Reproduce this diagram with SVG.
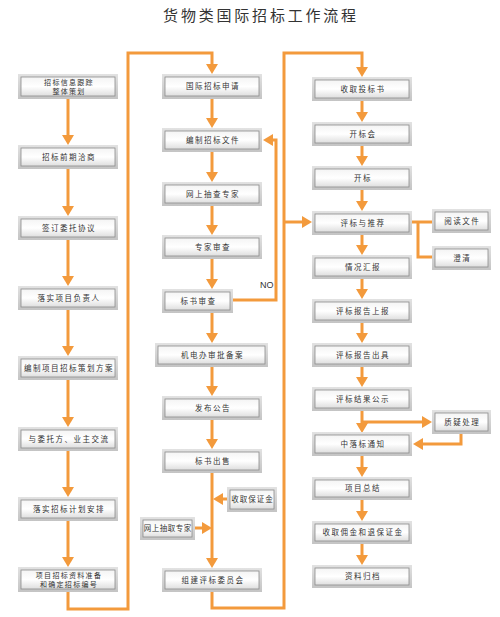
<svg xmlns="http://www.w3.org/2000/svg" width="500" height="617" viewBox="0 0 500 617">
<defs>
<linearGradient id="gi" x1="0" y1="0" x2="0" y2="1">
<stop offset="0" stop-color="#f4f4f4"/>
<stop offset="0.5" stop-color="#ffffff"/>
<stop offset="1" stop-color="#dedede"/>
</linearGradient>
<linearGradient id="go" x1="0" y1="0" x2="0" y2="1">
<stop offset="0" stop-color="#e2e2e2"/>
<stop offset="1" stop-color="#c4c4c4"/>
</linearGradient>
<marker id="ah" viewBox="0 0 10 12" refX="1" refY="6" markerWidth="10" markerHeight="12" markerUnits="userSpaceOnUse" orient="auto">
<path d="M0,0 L10,6 L0,12 z" fill="#f39a3c"/>
</marker>
</defs>
<style>
.o{fill:url(#go);}
.i{fill:url(#gi);stroke:#8c8c8c;stroke-width:0.8;}
.t{font-family:"Noto Sans CJK SC","Noto Sans",sans-serif;font-size:7.5px;fill:#333;letter-spacing:1.5px;text-anchor:middle;}
.t2{font-size:7px;letter-spacing:1.3px;}
.c{fill:none;stroke:#f39a3c;stroke-width:3;}
.a{marker-end:url(#ah);}
.ttl{font-family:"Noto Sans CJK SC","Noto Sans",sans-serif;font-size:15px;fill:#333;letter-spacing:2.8px;text-anchor:middle;}
.no{font-family:"Liberation Sans",Arial,sans-serif;font-size:9px;fill:#333;}
</style>
<rect width="500" height="617" fill="#ffffff"/>
<text class="ttl" x="261" y="21">货物类国际招标工作流程</text>

<g id="connectors">
<path class="c a" d="M68,99 V136"/>
<path class="c a" d="M68,169 V207"/>
<path class="c a" d="M68,240 V277"/>
<path class="c a" d="M68,310 V347"/>
<path class="c a" d="M68,380 V418"/>
<path class="c a" d="M68,451 V488"/>
<path class="c a" d="M68,521 V558"/>
<path class="c a" d="M68,592 V609 H128 V53 H212 V65"/>
<path class="c a" d="M212,99 V119"/>
<path class="c a" d="M212,152 V173"/>
<path class="c a" d="M212,206 V226"/>
<path class="c a" d="M212,259 V280"/>
<path class="c a" d="M212,313 V334"/>
<path class="c a" d="M212,367 V387"/>
<path class="c a" d="M212,420 V440"/>
<path class="c a" d="M212,473 V559"/>
<path class="c a" d="M227,499 H222"/>
<path class="c a" d="M195,528 H203"/>
<path class="c a" d="M233,300 H276 V140 H272"/>
<path class="c a" d="M212,592 V608 H284 V53 H362 V68"/>
<path class="c a" d="M284,222 H303"/>
<path class="c a" d="M362,101 V113"/>
<path class="c a" d="M362,146 V157"/>
<path class="c a" d="M362,190 V202"/>
<path class="c a" d="M362,235 V246"/>
<path class="c a" d="M362,279 V290"/>
<path class="c a" d="M362,323 V334"/>
<path class="c a" d="M362,367 V378"/>
<path class="c a" d="M362,411 V424"/>
<path class="c a" d="M362,456 V468"/>
<path class="c a" d="M362,500 V512"/>
<path class="c a" d="M362,544 V556"/>
<path class="c" d="M412,222 H432"/>
<path class="c" d="M418,222 V257 H432"/>
<path class="c a" d="M362,422 H423"/>
<path class="c a" d="M461,434 V444 H422"/>
<text class="no" x="260" y="288">NO</text>
</g>

<g id="n1"><rect class="o" x="18" y="74" width="100" height="25"/><rect class="i" x="21" y="77" width="94" height="19"/><text class="t t2" x="69" y="84.5">招标信息跟踪</text><text class="t t2" x="69" y="93.5">整体策划</text></g>
<g id="n2"><rect class="o" x="18" y="145" width="100" height="24"/><rect class="i" x="21" y="148" width="94" height="18"/><text class="t" x="69" y="159.8">招标前期洽商</text></g>
<g id="n3"><rect class="o" x="18" y="216" width="100" height="24"/><rect class="i" x="21" y="219" width="94" height="18"/><text class="t" x="69" y="230.8">签订委托协议</text></g>
<g id="n4"><rect class="o" x="18" y="286" width="100" height="24"/><rect class="i" x="21" y="289" width="94" height="18"/><text class="t" x="69" y="300.8">落实项目负责人</text></g>
<g id="n5"><rect class="o" x="18" y="356" width="100" height="24"/><rect class="i" x="21" y="359" width="94" height="18"/><text class="t" x="69" y="370.8">编制项目招标策划方案</text></g>
<g id="n6"><rect class="o" x="18" y="427" width="100" height="24"/><rect class="i" x="21" y="430" width="94" height="18"/><text class="t" x="69" y="441.8">与委托方、业主交流</text></g>
<g id="n7"><rect class="o" x="18" y="497" width="100" height="24"/><rect class="i" x="21" y="500" width="94" height="18"/><text class="t" x="69" y="511.8">落实招标计划安排</text></g>
<g id="n8"><rect class="o" x="18" y="567" width="100" height="25"/><rect class="i" x="21" y="570" width="94" height="19"/><text class="t t2" x="69" y="577.5">项目招标资料准备</text><text class="t t2" x="69" y="586.5">和确定招标编号</text></g>

<g id="m1"><rect class="o" x="162" y="74" width="100" height="25"/><rect class="i" x="165" y="77" width="94" height="19"/><text class="t" x="213" y="89.3">国际招标申请</text></g>
<g id="m2"><rect class="o" x="162" y="128" width="100" height="24"/><rect class="i" x="165" y="131" width="94" height="18"/><text class="t" x="213" y="142.8">编制招标文件</text></g>
<g id="m3"><rect class="o" x="162" y="182" width="100" height="24"/><rect class="i" x="165" y="185" width="94" height="18"/><text class="t" x="213" y="196.8">网上抽查专家</text></g>
<g id="m4"><rect class="o" x="162" y="235" width="100" height="24"/><rect class="i" x="165" y="238" width="94" height="18"/><text class="t" x="213" y="249.8">专家审查</text></g>
<g id="m5"><rect class="o" x="162" y="289" width="71" height="24"/><rect class="i" x="165" y="292" width="65" height="18"/><text class="t" x="198.5" y="303.8">标书审查</text></g>
<g id="m6"><rect class="o" x="155" y="343" width="113" height="24"/><rect class="i" x="158" y="346" width="107" height="18"/><text class="t" x="212.5" y="357.8">机电办审批备案</text></g>
<g id="m7"><rect class="o" x="162" y="396" width="100" height="24"/><rect class="i" x="165" y="399" width="94" height="18"/><text class="t" x="213" y="410.8">发布公告</text></g>
<g id="m8"><rect class="o" x="162" y="449" width="100" height="24"/><rect class="i" x="165" y="452" width="94" height="18"/><text class="t" x="213" y="463.8">标书出售</text></g>
<g id="m9"><rect class="o" x="227" y="487" width="50" height="25"/><rect class="i" x="230" y="490" width="44" height="19"/><text class="t" x="252.5" y="502.3" style="letter-spacing:1px">收取保证金</text></g>
<g id="m10"><rect class="o" x="140" y="517" width="55" height="23"/><rect class="i" x="143" y="520" width="49" height="17"/><text class="t" x="167.8" y="531.3" style="letter-spacing:0.5px">网上抽取专家</text></g>
<g id="m11"><rect class="o" x="162" y="568" width="100" height="24"/><rect class="i" x="165" y="571" width="94" height="18"/><text class="t" x="213" y="582.8">组建评标委员会</text></g>

<g id="r1"><rect class="o" x="312" y="77" width="100" height="24"/><rect class="i" x="315" y="80" width="94" height="18"/><text class="t" x="363" y="91.8">收取投标书</text></g>
<g id="r2"><rect class="o" x="312" y="122" width="100" height="24"/><rect class="i" x="315" y="125" width="94" height="18"/><text class="t" x="363" y="136.8">开标会</text></g>
<g id="r3"><rect class="o" x="312" y="166" width="100" height="24"/><rect class="i" x="315" y="169" width="94" height="18"/><text class="t" x="363" y="180.8">开标</text></g>
<g id="r4"><rect class="o" x="312" y="211" width="100" height="24"/><rect class="i" x="315" y="214" width="94" height="18"/><text class="t" x="363" y="225.8">评标与推荐</text></g>
<g id="r5"><rect class="o" x="312" y="255" width="100" height="24"/><rect class="i" x="315" y="258" width="94" height="18"/><text class="t" x="363" y="269.8">情况汇报</text></g>
<g id="r6"><rect class="o" x="312" y="299" width="100" height="24"/><rect class="i" x="315" y="302" width="94" height="18"/><text class="t" x="363" y="313.8">评标报告上报</text></g>
<g id="r7"><rect class="o" x="312" y="343" width="100" height="24"/><rect class="i" x="315" y="346" width="94" height="18"/><text class="t" x="363" y="357.8">评标报告出具</text></g>
<g id="r8"><rect class="o" x="312" y="387" width="100" height="24"/><rect class="i" x="315" y="390" width="94" height="18"/><text class="t" x="363" y="401.8">评标结果公示</text></g>
<g id="r9"><rect class="o" x="312" y="432" width="100" height="24"/><rect class="i" x="315" y="435" width="94" height="18"/><text class="t" x="363" y="446.8">中落标通知</text></g>
<g id="r10"><rect class="o" x="312" y="477" width="100" height="23"/><rect class="i" x="315" y="480" width="94" height="17"/><text class="t" x="363" y="491.3">项目总结</text></g>
<g id="r11"><rect class="o" x="312" y="521" width="100" height="23"/><rect class="i" x="315" y="524" width="94" height="17"/><text class="t" x="363" y="535.3">收取佣金和退保证金</text></g>
<g id="r12"><rect class="o" x="312" y="565" width="100" height="23"/><rect class="i" x="315" y="568" width="94" height="17"/><text class="t" x="363" y="579.3">资料归档</text></g>

<g id="s1"><rect class="o" x="432" y="209" width="59" height="24"/><rect class="i" x="435" y="212" width="53" height="18"/><text class="t" x="462.3" y="223.8">阅读文件</text></g>
<g id="s2"><rect class="o" x="432" y="246" width="59" height="24"/><rect class="i" x="435" y="249" width="53" height="18"/><text class="t" x="462.3" y="260.8">澄清</text></g>
<g id="s3"><rect class="o" x="432" y="410" width="59" height="24"/><rect class="i" x="435" y="413" width="53" height="18"/><text class="t" x="462.3" y="424.8">质疑处理</text></g>
</svg>
